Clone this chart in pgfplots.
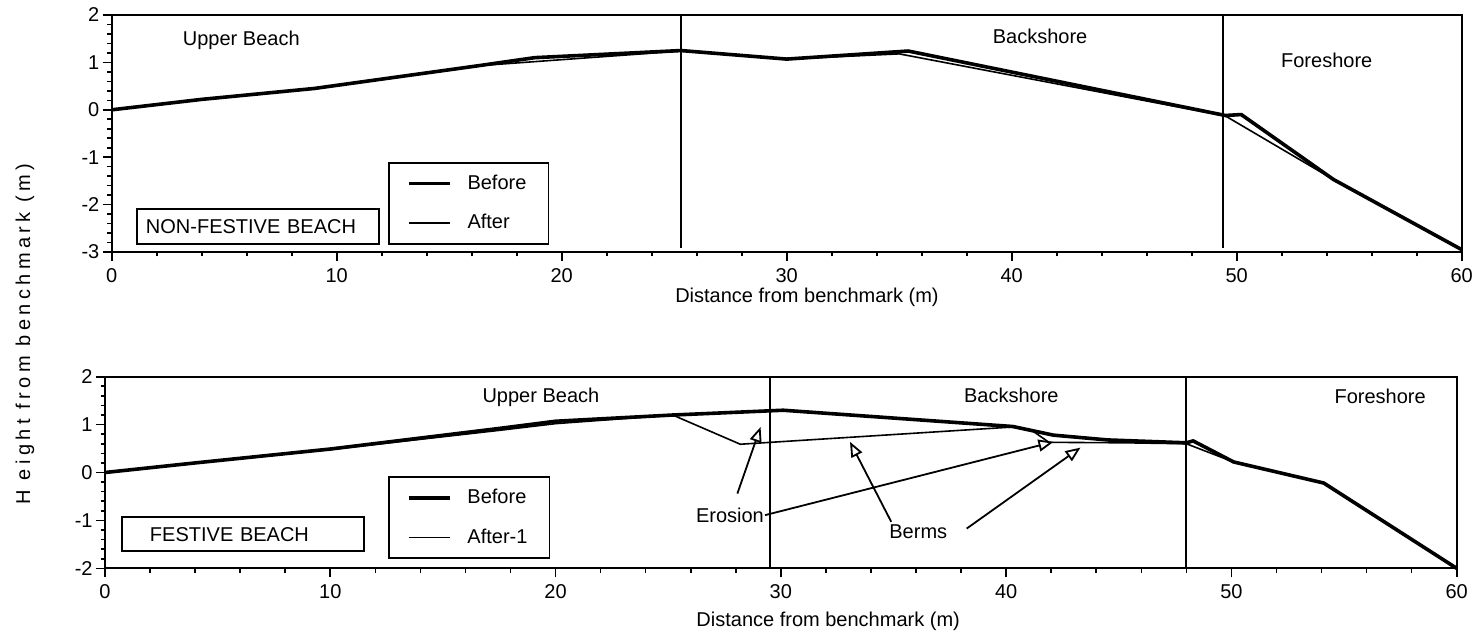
\documentclass[border=0pt]{standalone}
\usepackage{fontspec}
\setmainfont{Liberation Sans}
\usepackage{pgfplots}
\pgfplotsset{compat=1.18}
\usetikzlibrary{arrows.meta}

\begin{document}
\begin{tikzpicture}
\path[use as bounding box] (0pt,0pt) rectangle (741pt,-318.5pt);
\tikzset{
 annot/.style={-{Triangle[open,length=7.5pt,width=6pt]}, line width=0.9pt, black},
 region/.style={anchor=base, font=\fontsize{10}{12}\selectfont},
 beachbox/.style={draw, line width=0.9pt, align=left, anchor=center, font=\fontsize{10}{12}\selectfont},
}
\pgfplotsset{
 beach/.style={
  scale only axis, xmin=0, xmax=60,
  xtick={0,10,...,60}, minor x tick num=4,
  minor y tick num=4,
  tick align=outside, tick pos=left,
  major tick length=4.5pt, minor tick length=2.2pt,
  every tick/.style={black, line width=0.8pt},
  axis line style={line width=1.1pt},
  font=\fontsize{10}{12}\selectfont,
  /pgf/number format/assume math mode=true,
  yticklabel style={inner xsep=1.5pt},
  clip=false,
  legend image code/.code={\draw[##1] (0pt,0pt) -- (20.5pt,0pt);},
  legend cell align=left,
  legend style={anchor=north west, draw=black, line width=0.9pt,
    font=\fontsize{10}{12}\selectfont, inner xsep=9pt, inner ysep=4pt,
    row sep=7pt, column sep=6pt},
 },
 before/.style={black, line width=1.8pt, line join=round},
 after/.style={black, line width=0.8pt, line join=round},
 zone/.style={black, line width=1.05pt, forget plot},
}

% ---------------- top: non-festive beach ----------------
\begin{axis}[beach, at={(55.85pt,-126pt)}, anchor=south west,
  width=675pt, height=118.5pt, ymin=-3, ymax=2, ytick={-3,...,2},
  xlabel={Distance from benchmark (m)},
  xlabel style={at={(axis description cs:0.515,0)}, anchor=center, yshift=-22.5pt},
  legend style={at={(axis cs:12.28,-1.10)}}]
\addplot[before] coordinates {(0,0) (4,0.22) (9,0.45) (16.3,0.93) (18.8,1.10) (25.3,1.25) (30,1.07) (35.4,1.24) (49.5,-0.12) (50.2,-0.10) (54.3,-1.47) (60,-2.95)};
\addlegendentry{Before}
\addplot[after] coordinates {(0,0) (4,0.22) (9,0.45) (16.3,0.93) (25.3,1.24) (30,1.07) (35,1.18) (49.5,-0.13) (54.3,-1.47) (60,-2.95)};
\addlegendentry{After}
\addplot[zone] coordinates {(25.3,-2.92) (25.3,2)};
\addplot[zone] coordinates {(49.4,-2.92) (49.4,2)};
\node[region] at (axis cs:5.76,1.36) {Upper Beach};
\node[region] at (axis cs:41.26,1.40) {Backshore};
\node[region] at (axis cs:54.0,0.90) {Foreshore};
\node[beachbox, minimum height=17.5pt, text width=112pt, inner xsep=4.5pt] at (axis cs:6.50,-2.464) {NON-FESTIVE BEACH};
\end{axis}

% ---------------- bottom: festive beach ----------------
\begin{axis}[beach, at={(52.5pt,-284.15pt)}, anchor=south west,
  width=675.85pt, height=95.8pt, ymin=-2, ymax=2, ytick={-2,...,2},
  xlabel={Distance from benchmark (m)},
  xlabel style={at={(axis description cs:0.535,0)}, anchor=center, yshift=-26.7pt},
  legend style={at={(axis cs:12.56,-0.077)}}]
\addplot[before] coordinates {(0,0) (4,0.20) (10,0.49) (17.5,0.92) (20,1.07) (25.2,1.20) (30.1,1.30) (40.3,0.96) (42.1,0.78) (44.5,0.68) (48,0.62) (48.3,0.66) (50.1,0.22) (54.1,-0.22) (60,-2.0)};
\addlegendentry{Before}
\addplot[after] coordinates {(0,0) (4,0.20) (10,0.48) (17.5,0.88) (20,1.02) (25.2,1.20) (28.2,0.59) (40.3,0.95) (41.2,0.86) (41.9,0.63) (45.3,0.62) (48,0.60) (50.1,0.22) (54.1,-0.22) (60,-2.0)};
\addlegendentry{After-1}
\addplot[zone] coordinates {(29.5,-2) (29.5,2)};
\addplot[zone] coordinates {(48.0,-2) (48.0,2)};
\node[region] at (axis cs:19.35,1.46) {Upper Beach};
\node[region] at (axis cs:40.23,1.46) {Backshore};
\node[region] at (axis cs:56.6,1.45) {Foreshore};
\node[beachbox, minimum height=17pt, text width=93pt, inner xsep=14pt] at (axis cs:6.125,-1.288) {FESTIVE BEACH};
\node[region] at (axis cs:27.74,-1.04) {Erosion};
\node[region] at (axis cs:36.1,-1.38) {Berms};
\draw[annot] (axis cs:28.07,-0.44) -- (axis cs:29.1,0.95);
\draw[annot] (axis cs:29.3,-0.89) -- (axis cs:42.1,0.64);
\draw[annot] (axis cs:34.9,-1.03) -- (axis cs:33.07,0.64);
\draw[annot] (axis cs:38.25,-1.17) -- (axis cs:43.3,0.52);
\end{axis}

\node[rotate=90, font=\fontsize{10}{12}\selectfont] at (12.5pt,-167pt) {\addfontfeature{LetterSpace=22}H eight from benchmark (m)};
\end{tikzpicture}
\end{document}
